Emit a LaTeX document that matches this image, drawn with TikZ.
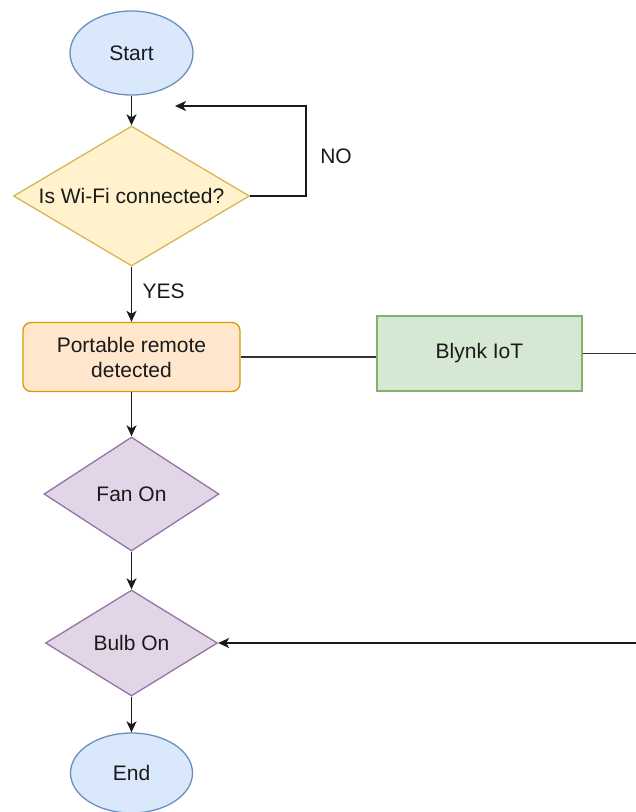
\documentclass[tikz,border=0pt]{standalone}
\usepackage{fontspec}
\setmainfont{Liberation Sans}
\usetikzlibrary{shapes.geometric,arrows.meta}
\definecolor{bluefill}{HTML}{DAE8FC}
\definecolor{bluedraw}{HTML}{6C8EBF}
\definecolor{yelfill}{HTML}{FFF2CC}
\definecolor{yeldraw}{HTML}{D6B656}
\definecolor{orfill}{HTML}{FFE6CC}
\definecolor{ordraw}{HTML}{D79B00}
\definecolor{grfill}{HTML}{D5E8D4}
\definecolor{grdraw}{HTML}{82B366}
\definecolor{pufill}{HTML}{E1D5E7}
\definecolor{pudraw}{HTML}{9673A6}
\definecolor{txt}{HTML}{1A1A1A}
\tikzset{
  base/.style={line width=1.3pt, inner sep=0pt, text=txt, font=\fontsize{21}{25}\selectfont, align=center},
  term/.style={base, ellipse, fill=bluefill, draw=bluedraw},
  arr/.style={line width=1.6pt, draw=txt, -{Stealth[length=11pt,width=10pt,inset=3pt]}},
  ln/.style={line width=1.6pt, draw=txt!90},
  lbl/.style={text=txt, font=\fontsize{21}{25}\selectfont}
}
\begin{document}
\begin{tikzpicture}[x=1pt,y=-1pt]
\useasboundingbox (0,0) rectangle (636,812);
\node[term, minimum width=123pt, minimum height=84pt] (start) at (131.5,53) {Start};
\node[base, diamond, fill=yelfill, draw=yeldraw, minimum width=236pt, minimum height=140pt, label={[lbl]center:Is Wi-Fi connected?}] (wifi) at (131.5,196) {};
\node[base, rectangle, rounded corners=8pt, fill=orfill, draw=ordraw, minimum width=217pt, minimum height=69pt] (remote) at (131.5,357) {Portable remote\\detected};
\node[base, rectangle, fill=grfill, draw=grdraw, minimum width=205pt, minimum height=75pt] (blynk) at (479.5,353.5) {Blynk IoT};
\node[base, diamond, fill=pufill, draw=pudraw, minimum width=175pt, minimum height=114pt, label={[lbl]center:Fan On}] (fan) at (131.5,494) {};
\node[base, diamond, fill=pufill, draw=pudraw, minimum width=172pt, minimum height=106pt, label={[lbl]center:Bulb On}] (bulb) at (131.5,643) {};
\node[term, minimum width=122pt, minimum height=80pt] (end) at (131.5,773) {End};
\coordinate (noturn) at (306,106);
\coordinate (noend) at (175,106);
\coordinate (blynkout) at (636,353.5);
\coordinate (bulbin) at (636,643);
\draw[arr] (start.south) -- (wifi.north);
\draw[arr] (wifi.east) -| (noturn) -- (noend);
\node[lbl] (nolbl) at (336,156) {NO};
\draw[arr] (wifi.south) -- (remote.north);
\node[lbl, anchor=west] (yeslbl) at (139,291) {YES};
\draw[ln] (remote.east) -- (remote.east -| blynk.west);
\draw[ln] (blynk.east) -- (blynkout);
\draw[arr] (remote.south) -- (fan.north);
\draw[arr] (fan.south) -- (bulb.north);
\draw[arr] (bulb.south) -- (end.north);
\draw[arr] (bulbin) -- (bulb.east);
\end{tikzpicture}
\end{document}
